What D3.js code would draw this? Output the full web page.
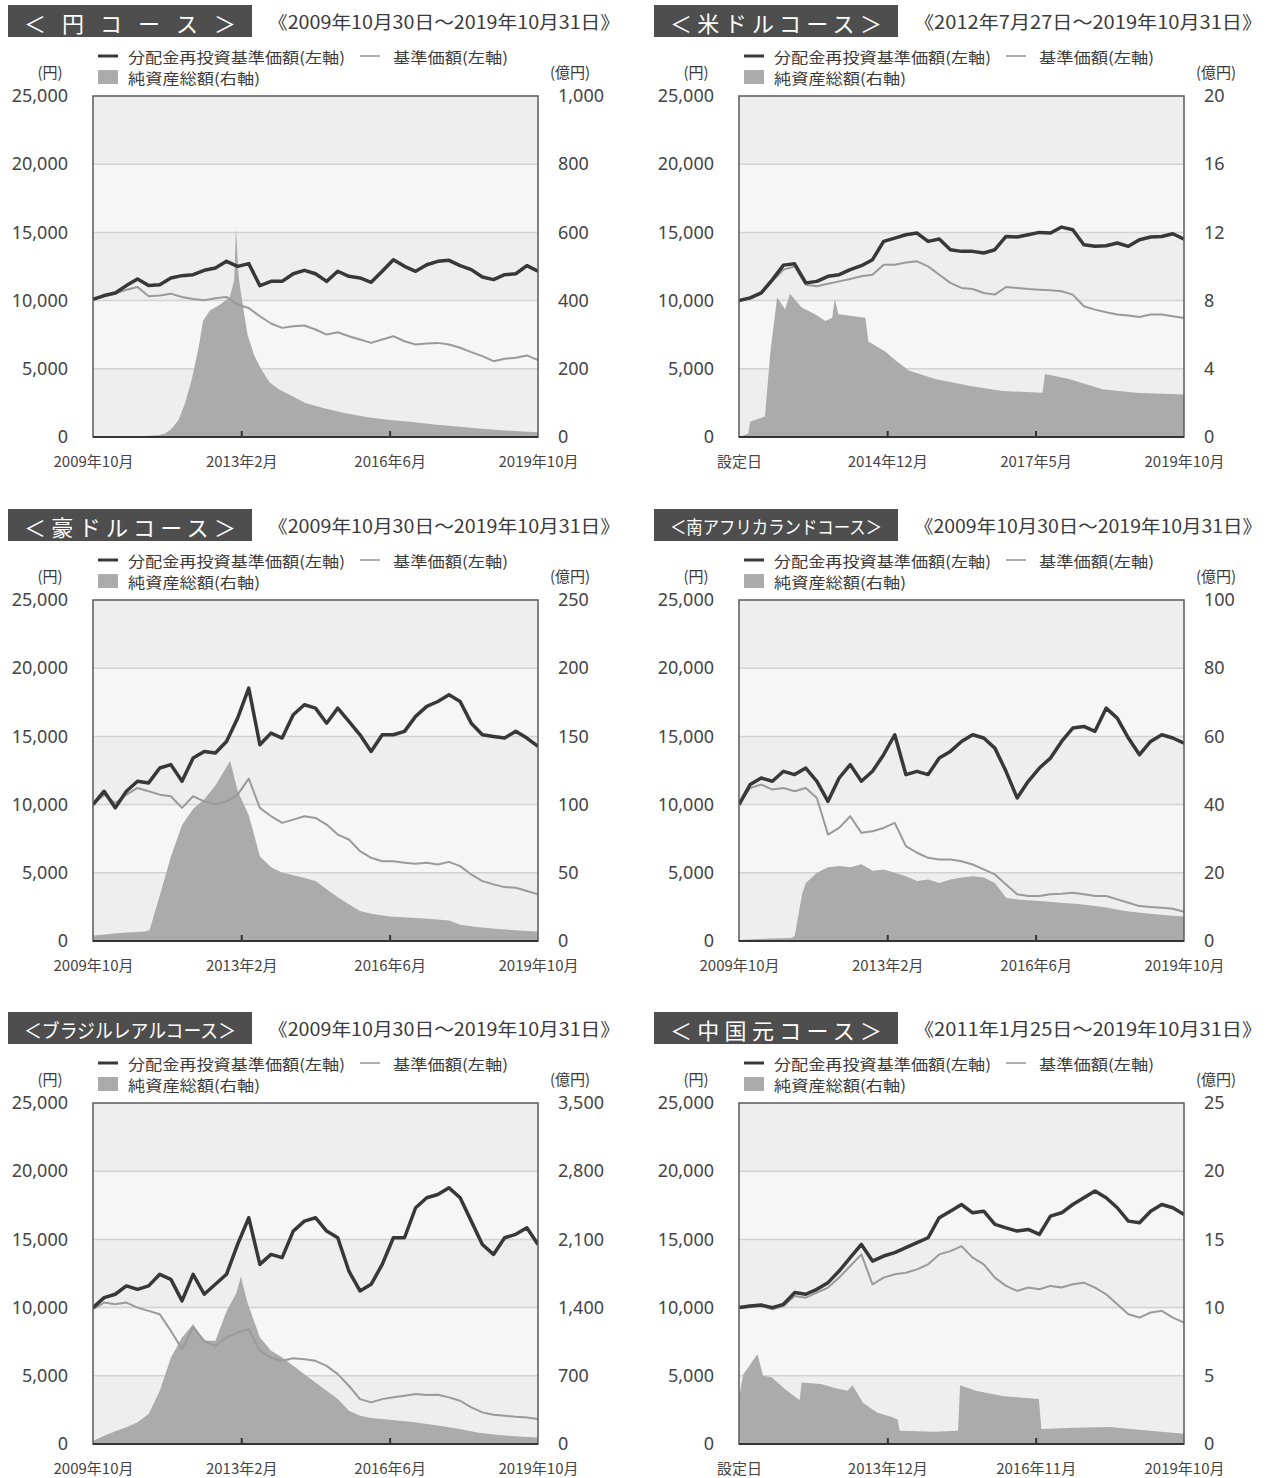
<!DOCTYPE html>
<html><head><meta charset="utf-8">
<script src="https://cdn.jsdelivr.net/npm/d3@7"></script>
<style>
body{margin:0;background:#fff;}
svg{display:block;}
text{font-family:"Noto Sans CJK JP","Noto Sans",sans-serif;}
.num{font-family:"Noto Sans","DejaVu Sans",sans-serif;}
</style>
</head><body>
<svg id="c" width="1271" height="1478"></svg>
<script>
// ---------- texts ----------
const titles = ["＜ 円 コ ー ス ＞","＜米ドルコース＞","＜豪ドルコース＞","＜南アフリカランドコース＞","＜ブラジルレアルコース＞","＜中国元コース＞"];
const periods = ["《2009年10月30日～2019年10月31日》","《2012年7月27日～2019年10月31日》","《2009年10月30日～2019年10月31日》","《2009年10月30日～2019年10月31日》","《2009年10月30日～2019年10月31日》","《2011年1月25日～2019年10月31日》"];
const legendLabels = ["分配金再投資基準価額(左軸)","基準価額(左軸)","純資産総額(右軸)"];
const startDates = ["2009-10-30","2012-07-27","2009-10-30","2009-10-30","2009-10-30","2011-01-25"];
const endDate = "2019-10-31";
const xTickDates = [
  ["2013-02-28","2016-06-30"],["2014-12-27","2017-05-29"],["2013-02-28","2016-06-30"],
  ["2013-02-28","2016-06-30"],["2013-02-28","2016-06-30"],["2013-12-27","2016-11-28"]];
const xTickLabels = [
  ["2009年10月","2013年2月","2016年6月","2019年10月"],
  ["設定日","2014年12月","2017年5月","2019年10月"],
  ["2009年10月","2013年2月","2016年6月","2019年10月"],
  ["2009年10月","2013年2月","2016年6月","2019年10月"],
  ["2009年10月","2013年2月","2016年6月","2019年10月"],
  ["設定日","2013年12月","2016年11月","2019年10月"]];
const leftTicks = [0,5000,10000,15000,20000,25000];
const rightTicks = [
  [0,200,400,600,800,1000],[0,4,8,12,16,20],[0,50,100,150,200,250],
  [0,20,40,60,80,100],[0,700,1400,2100,2800,3500],[0,5,10,15,20,25]];

// ---------- series (lines: evenly spaced samples from start to end) ----------
const jpyReinvest = [10100,10370,10560,11100,11590,11100,11170,11660,11830,11900,12220,12390,12880,12510,12710,11100,11410,11410,11970,12220,11970,11410,12150,11780,11660,11340,12150,13000,12510,12150,12630,12880,12950,12560,12270,11730,11540,11900,11970,12560,12150];
const jpyNav = [10100,10320,10510,10800,11000,10320,10370,10510,10270,10120,10020,10170,10270,9700,9460,8850,8320,8000,8120,8170,7880,7510,7680,7390,7150,6900,7150,7390,7020,6780,6850,6900,6780,6540,6220,5930,5560,5730,5810,5980,5640];
const jpyAssets = [[2009.83,2],[2010.5,3],[2011.0,3],[2011.3,5],[2011.45,10],[2011.6,25],[2011.75,50],[2011.9,100],[2012.05,170],[2012.2,260],[2012.3,340],[2012.45,370],[2012.7,390],[2012.9,410],[2013.0,460],[2013.04,615],[2013.1,470],[2013.2,380],[2013.3,300],[2013.45,240],[2013.6,200],[2013.8,160],[2014.0,140],[2014.3,120],[2014.6,100],[2015.0,85],[2015.5,70],[2016.0,58],[2016.5,50],[2017.0,44],[2017.5,37],[2018.0,31],[2018.5,25],[2019.0,20],[2019.5,16],[2019.83,14]];

const usdReinvest = [10000,10200,10560,11540,12600,12700,11300,11410,11780,11900,12270,12560,13000,14340,14580,14830,14950,14340,14510,13730,13610,13610,13490,13730,14700,14660,14830,15000,14950,15390,15190,14100,13980,14020,14220,13980,14460,14660,14700,14900,14510];
const usdNav = [10000,10150,10510,11410,12270,12500,11170,11050,11240,11410,11590,11780,11900,12630,12630,12800,12880,12510,11900,11300,10930,10850,10560,10440,11000,10930,10850,10800,10760,10680,10440,9590,9340,9150,8980,8900,8800,8980,8980,8850,8730];
const usdAssets = [[2012.57,0],[2012.72,0.2],[2012.75,0.9],[2012.99,1.2],[2013.08,5],[2013.19,8.2],[2013.32,7.5],[2013.4,8.4],[2013.59,7.6],[2013.81,7.2],[2013.98,6.8],[2014.09,7.0],[2014.13,8.1],[2014.19,7.2],[2014.63,7.0],[2014.68,5.6],[2014.96,5.0],[2015.12,4.5],[2015.34,3.9],[2015.77,3.4],[2016.32,3.0],[2016.86,2.7],[2017.52,2.6],[2017.56,3.7],[2017.95,3.4],[2018.5,2.8],[2019.04,2.6],[2019.83,2.5]];

const audReinvest = [10000,10980,9760,10980,11710,11590,12680,12930,11710,13410,13900,13780,14630,16340,18540,14390,15240,14880,16590,17320,17070,15970,17070,16100,15120,13900,15120,15120,15370,16470,17200,17560,18050,17560,15970,15120,15000,14880,15370,14880,14270];
const audNav = [10000,10730,10120,10730,11220,10980,10730,10610,9760,10610,10240,10000,10240,10730,11900,9760,9150,8660,8900,9150,9020,8540,7800,7440,6590,6100,5850,5850,5730,5660,5730,5610,5800,5490,4880,4390,4150,3950,3900,3660,3420];
const audAssets = [[2009.83,4],[2010.5,6],[2011.0,7],[2011.1,8],[2011.3,30],[2011.58,62],[2011.83,85],[2012.08,97],[2012.33,104],[2012.58,114],[2012.91,132],[2013.08,110],[2013.33,92],[2013.58,62],[2013.83,54],[2014.08,50],[2014.5,47],[2014.83,44],[2015.08,38],[2015.33,32],[2015.58,27],[2015.83,22],[2016.08,20],[2016.5,18],[2017.0,17],[2017.5,16],[2017.83,15],[2018.08,12],[2018.5,10],[2019.0,8.6],[2019.5,7.6],[2019.83,7]];

const zarReinvest = [10000,11470,11950,11710,12440,12200,12680,11710,10240,11950,12930,11710,12440,13660,15120,12200,12440,12200,13410,13900,14630,15120,14880,14140,12440,10490,11710,12680,13410,14630,15610,15730,15370,17070,16340,14880,13660,14630,15120,14880,14500];
const zarNav = [10000,11220,11470,11100,11220,10980,11220,10490,7800,8290,9150,7930,8050,8290,8660,6960,6470,6100,5980,5980,5850,5610,5250,4880,4150,3420,3300,3300,3420,3470,3540,3420,3300,3300,3050,2810,2560,2490,2440,2370,2150];
const zarAssets = [[2009.83,0.3],[2010.5,0.7],[2011.0,0.9],[2011.08,1.5],[2011.25,14],[2011.33,17],[2011.58,20],[2011.83,21.6],[2012.08,22],[2012.33,21.6],[2012.58,22.5],[2012.83,20.6],[2013.08,21],[2013.33,20],[2013.58,19],[2013.83,17.6],[2014.08,18],[2014.33,17],[2014.58,18],[2014.83,18.6],[2015.08,19],[2015.33,18.6],[2015.58,17],[2015.83,12.7],[2016.08,12.2],[2016.5,11.8],[2017.0,11.3],[2017.5,10.8],[2017.83,10.3],[2018.08,9.8],[2018.5,8.8],[2019.0,8.1],[2019.5,7.5],[2019.83,7.2]];

const brlReinvest = [10000,10730,10980,11590,11340,11590,12440,12070,10490,12440,10980,11710,12440,14630,16590,13170,13900,13660,15610,16340,16590,15610,15120,12680,11220,11710,13170,15120,15120,17320,18050,18290,18780,18050,16340,14630,13900,15120,15370,15850,14630];
const brlNav = [9880,10370,10240,10370,10000,9760,9510,8290,6960,8540,7560,7200,7810,8170,8420,6830,6340,6100,6290,6220,6100,5730,5120,4270,3290,3050,3290,3420,3540,3660,3590,3610,3420,3170,2680,2320,2150,2070,2000,1950,1830];
const brlAssets = [[2009.83,34],[2010.08,85],[2010.33,130],[2010.58,171],[2010.83,222],[2011.08,307],[2011.33,546],[2011.58,888],[2011.83,1093],[2012.08,1230],[2012.33,1059],[2012.58,1059],[2012.83,1366],[2013.05,1550],[2013.15,1720],[2013.3,1450],[2013.58,1093],[2013.83,956],[2014.08,888],[2014.33,803],[2014.58,717],[2014.83,632],[2015.08,546],[2015.33,461],[2015.58,342],[2015.83,290],[2016.08,266],[2016.5,250],[2017.0,225],[2017.5,195],[2018.0,160],[2018.5,115],[2019.0,90],[2019.5,75],[2019.83,68]];

const cnyReinvest = [10000,10120,10190,10000,10240,11100,10980,11340,11830,12680,13660,14630,13410,13780,14030,14390,14760,15120,16590,17070,17560,16950,17070,16100,15850,15610,15730,15370,16710,16950,17560,18050,18540,18050,17320,16340,16220,17070,17560,17320,16830];
const cnyNav = [9950,10050,10120,9880,10120,10850,10730,11100,11470,12200,13050,13900,11710,12200,12440,12560,12800,13170,13900,14140,14510,13660,13170,12200,11590,11220,11470,11340,11590,11470,11710,11830,11470,10980,10240,9510,9270,9640,9760,9270,8900];
const cnyAssets = [[2011.07,3.5],[2011.15,5.1],[2011.43,6.6],[2011.54,5.0],[2011.71,4.9],[2011.98,4.0],[2012.26,3.2],[2012.3,4.5],[2012.68,4.4],[2012.95,4.1],[2013.2,3.9],[2013.3,4.3],[2013.51,3.0],[2013.79,2.3],[2014.06,2.0],[2014.19,1.8],[2014.23,0.98],[2014.9,0.9],[2015.38,0.98],[2015.42,4.3],[2015.73,3.9],[2016.28,3.5],[2016.97,3.3],[2017.02,1.1],[2017.67,1.2],[2018.36,1.25],[2019.05,1.0],[2019.83,0.75]];

const reinvestSeries = [jpyReinvest,usdReinvest,audReinvest,zarReinvest,brlReinvest,cnyReinvest];
const navSeries = [jpyNav,usdNav,audNav,zarNav,brlNav,cnyNav];
const assetSeries = [jpyAssets,usdAssets,audAssets,zarAssets,brlAssets,cnyAssets];

// ---------- drawing ----------
const parse = d3.timeParse("%Y-%m-%d");
function decYear(v){const y=Math.floor(v);const a=new Date(y,0,1),b=new Date(y+1,0,1);return new Date(+a+(v-y)*(b-a));}
const svg = d3.select("#c");
const colX=[0,646], rowY=[0,504,1007];
const C = {box:"#4e4e4e", dark:"#383838", nav:"#9a9a9a", area:"#ababab", txt:"#3a3a3a"};

titles.forEach((title,k)=>{
  const ox=colX[k%2], oy=rowY[Math.floor(k/2)];
  const L=93+ox, R=538+ox, T=96+oy, B=437+oy;
  const g=svg.append("g");
  const start=parse(startDates[k]), end=parse(endDate);

  // header
  g.append("rect").attr("x",8+ox).attr("y",5+oy).attr("width",244).attr("height",32).attr("fill",C.box);
  const tt=g.append("text").attr("x",130+ox).attr("y",22+oy).attr("text-anchor","middle")
    .attr("dominant-baseline","central").attr("fill","#fff").attr("font-size",22).text(title);
  let nat=tt.node().getComputedTextLength();
  if(nat>236){ tt.attr("font-size",22*236/nat); nat=236; }
  tt.attr("textLength",212).attr("lengthAdjust", nat>212?"spacingAndGlyphs":"spacing");
  const pLen = k%2===0 ? 352 : 348;
  g.append("text").attr("x",268+ox).attr("y",21+oy).attr("dominant-baseline","central")
    .attr("fill",C.txt).attr("font-size",18).attr("textLength",pLen).attr("lengthAdjust","spacingAndGlyphs").text(periods[k]);

  // legend
  g.append("line").attr("x1",98+ox).attr("x2",118+ox).attr("y1",56+oy).attr("y2",56+oy).attr("stroke",C.dark).attr("stroke-width",3);
  g.append("text").attr("x",128+ox).attr("y",56+oy).attr("dominant-baseline","central").attr("font-size",15).attr("fill",C.txt)
    .attr("textLength",217).attr("lengthAdjust","spacingAndGlyphs").text(legendLabels[0]);
  g.append("line").attr("x1",360+ox).attr("x2",380+ox).attr("y1",56+oy).attr("y2",56+oy).attr("stroke","#b0b0b0").attr("stroke-width",2);
  g.append("text").attr("x",393+ox).attr("y",56+oy).attr("dominant-baseline","central").attr("font-size",15).attr("fill",C.txt)
    .attr("textLength",115).attr("lengthAdjust","spacingAndGlyphs").text(legendLabels[1]);
  g.append("rect").attr("x",98+ox).attr("y",70+oy).attr("width",20).attr("height",14).attr("fill",C.area);
  g.append("text").attr("x",128+ox).attr("y",77+oy).attr("dominant-baseline","central").attr("font-size",15).attr("fill",C.txt)
    .attr("textLength",132).attr("lengthAdjust","spacingAndGlyphs").text(legendLabels[2]);
  g.append("text").attr("x",50+ox).attr("y",71+oy).attr("text-anchor","middle").attr("dominant-baseline","central").attr("font-size",15).attr("fill",C.txt).text("(円)");
  g.append("text").attr("x",570+ox).attr("y",71+oy).attr("text-anchor","middle").attr("dominant-baseline","central").attr("font-size",15).attr("fill",C.txt).text("(億円)");

  // scales
  const x=d3.scaleTime().domain([start,end]).range([L,R]);
  const yL=d3.scaleLinear().domain([0,25000]).range([B,T]);
  const yR=d3.scaleLinear().domain([0,rightTicks[k][rightTicks[k].length-1]]).range([B,T]);

  // background bands + grid
  d3.pairs(leftTicks).forEach(([a,b],i)=>{
    g.append("rect").attr("x",L).attr("width",R-L).attr("y",yL(b)).attr("height",yL(a)-yL(b))
      .attr("fill", (leftTicks.length-2-i)%2===0 ? "#eeeeee" : "#f6f6f6");
  });
  g.append("g").selectAll("line").data(leftTicks.slice(1,-1)).join("line")
    .attr("x1",L).attr("x2",R).attr("y1",d=>yL(d)).attr("y2",d=>yL(d)).attr("stroke","#d2d2d2").attr("stroke-width",1.5);

  const clipId="clip"+k;
  g.append("clipPath").attr("id",clipId).append("rect").attr("x",L).attr("y",T).attr("width",R-L).attr("height",B-T);
  const plot=g.append("g").attr("clip-path",`url(#${clipId})`);

  // area (net assets)
  plot.append("path").datum(assetSeries[k])
    .attr("d", d3.area().x(d=>x(decYear(d[0]))).y0(B).y1(d=>yR(d[1])))
    .attr("fill",C.area);

  // lines
  const n=reinvestSeries[k].length;
  const dates=d3.range(n).map(i=>new Date(+start+i/(n-1)*(end-start)));
  const line=d3.line().x((d,i)=>x(dates[i])).y(d=>yL(d)).curve(d3.curveLinear);
  plot.append("path").datum(navSeries[k]).attr("d",line).attr("fill","none").attr("stroke",C.nav).attr("stroke-width",2).attr("stroke-linejoin","round");
  plot.append("path").datum(reinvestSeries[k]).attr("d",line).attr("fill","none").attr("stroke",C.dark).attr("stroke-width",3.5).attr("stroke-linejoin","round");

  // frame
  g.append("rect").attr("x",L).attr("y",T).attr("width",R-L).attr("height",B-T).attr("fill","none").attr("stroke","#5a5a5a").attr("stroke-width",1.5);
  g.append("line").attr("x1",L).attr("x2",R).attr("y1",B).attr("y2",B).attr("stroke","#333").attr("stroke-width",2.2);

  // axes
  const ax=g.append("g").attr("transform",`translate(${68+ox},0)`)
    .call(d3.axisLeft(yL).tickValues(leftTicks).tickSize(0).tickPadding(0).tickFormat(d3.format(",")));
  const ar=g.append("g").attr("transform",`translate(${558+ox},0)`)
    .call(d3.axisRight(yR).tickValues(rightTicks[k]).tickSize(0).tickPadding(0).tickFormat(d3.format(",")));
  [ax,ar].forEach(a=>{a.select(".domain").remove();a.selectAll("text").attr("class","num").attr("font-size",18).attr("fill","#444");a.attr("font-family",null);});

  const xt=[start, ...xTickDates[k].map(parse), end];
  const ab=g.append("g").attr("transform",`translate(0,${B})`)
    .call(d3.axisBottom(x).tickValues(xt).tickSizeInner(-6).tickSizeOuter(0).tickPadding(19).tickFormat((d,i)=>xTickLabels[k][i]));
  ab.select(".domain").remove();
  ab.selectAll(".tick line").attr("stroke","#333").attr("stroke-width",2).attr("opacity",(d,i)=>(i===0||i===xt.length-1)?0:1);
  ab.selectAll("text").attr("font-size",15).attr("fill","#444");
  ab.attr("font-family",null);
});
</script>
</body></html>
